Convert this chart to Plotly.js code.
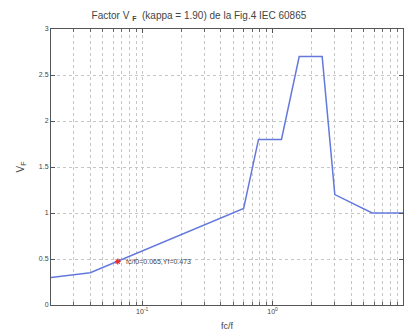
<!DOCTYPE html>
<html><head><meta charset="utf-8">
<script src="https://cdn.plot.ly/plotly-3.0.1.min.js"></script>
<style>html,body{margin:0;padding:0;background:#fff}#c{width:406px;height:336px}</style>
</head><body><div id="c"></div>
<script>
const fcf = [0.02, 0.04, 0.6, 0.78, 1.17, 1.6, 2.4, 3.0, 5.8, 10];
const vf  = [0.30, 0.35, 1.05, 1.80, 1.80, 2.70, 2.70, 1.20, 1.00, 1.00];
const markX = [0.065];
const markY = [0.473];
const markLabel = 'fc/f0=0.065,Yf=0.473';
const xTickVals = [0.1, 1, 10];
const xTickText = ['10<sup>-1</sup>', '10<sup>0</sup>', '10<sup>1</sup>'];
const titleText = 'Factor V <sub><b>F</b></sub>  (kappa = 1.90) de la Fig.4 IEC 60865';

const gridc = '#c6c6c6';
const font = {family: 'Liberation Sans, Arial, sans-serif', size: 7, color: '#444'};
const data = [
  {x: fcf, y: vf, type: 'scatter', mode: 'lines', line: {color: '#6479dc', width: 1.5}, hoverinfo: 'none'},
  {x: markX, y: markY, type: 'scatter', mode: 'markers', marker: {symbol: 'asterisk', size: 5, color: '#e83030', line: {color: '#e83030', width: 1.2}}, hoverinfo: 'none'}
];
const layout = {
  width: 406, height: 336,
  margin: {l: 51, r: 3, t: 29, b: 31},
  paper_bgcolor: '#fff', plot_bgcolor: '#fff',
  showlegend: false,
  font: font,
  title: {text: titleText, x: 0.49, xanchor: 'center', y: 0.955, yanchor: 'middle', font: {family: 'Liberation Sans, Arial, sans-serif', size: 10, color: '#444'}},
  xaxis: {
    type: 'log', range: [Math.log10(0.02), 1],
    tickvals: xTickVals, ticktext: xTickText, ticks: 'inside', ticklen: 4, tickcolor: '#555',
    showline: true, linecolor: '#555', linewidth: 1, mirror: 'ticks',
    showgrid: true, gridcolor: gridc, griddash: 'dot', gridwidth: 1,
    minor: {dtick: 'D1', ticks: 'inside', ticklen: 3, tickcolor: '#666', showgrid: true, gridcolor: gridc, griddash: 'dot', gridwidth: 1},
    zeroline: false, tickfont: {size: 7, color: '#444'},
    title: {text: 'fc/f', font: {size: 9, color: '#444'}, standoff: 8}
  },
  yaxis: {
    range: [0, 3], dtick: 0.5, ticks: 'inside', ticklen: 4, tickcolor: '#555',
    showline: true, linecolor: '#555', linewidth: 1, mirror: 'ticks',
    showgrid: true, gridcolor: gridc, griddash: 'dot', gridwidth: 1,
    zeroline: false, tickfont: {size: 7, color: '#444'},
    title: {text: 'V<sub>F</sub>', font: {size: 10, color: '#444'}, standoff: 12}
  },
  annotations: [{x: Math.log10(markX[0]), y: markY[0], xref: 'x', yref: 'y', text: markLabel, showarrow: false, xanchor: 'left', yanchor: 'middle', xshift: 6, font: {size: 7, color: '#444'}}]
};
Plotly.newPlot('c', data, layout, {displayModeBar: false, staticPlot: true});
</script></body></html>
